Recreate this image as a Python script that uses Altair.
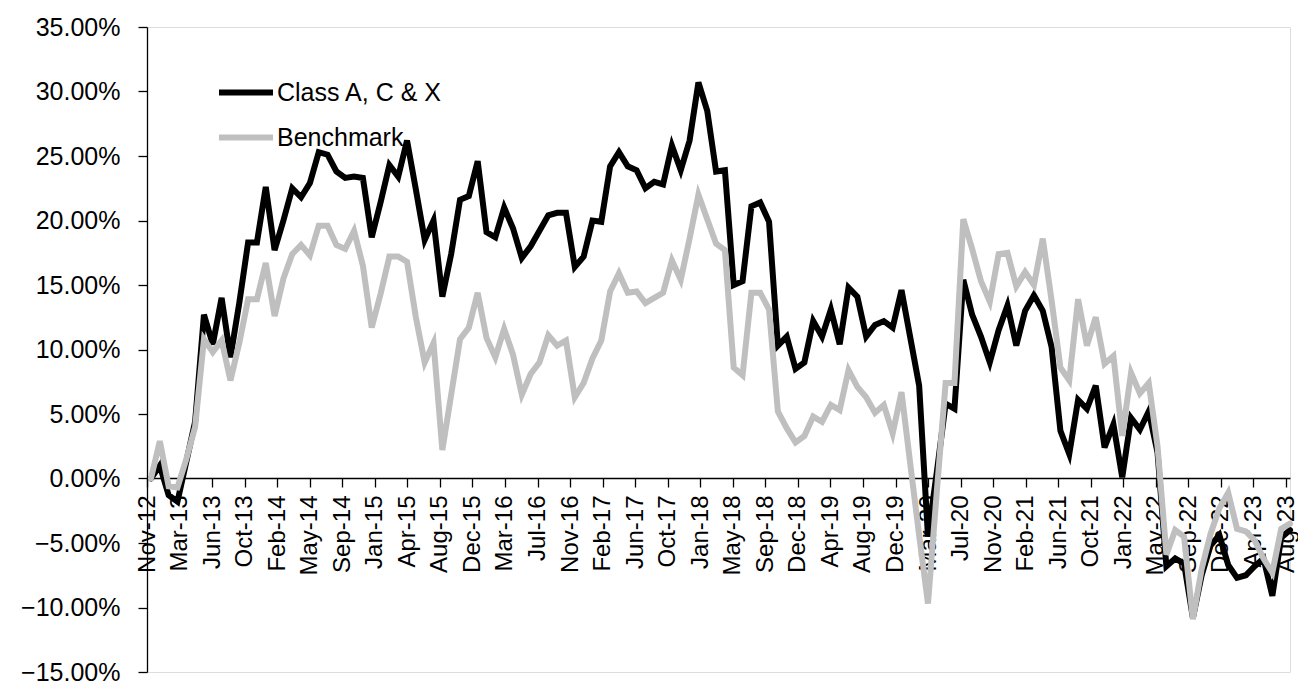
import altair as alt
import pandas as pd

FONT = "Liberation Sans, Arial, sans-serif"

series_names = ["Class A, C & X", "Benchmark"]
series_colors = ["#000000", "#bfbfbf"]

tick_labels = ["Nov-12", "Mar-13", "Jun-13", "Oct-13", "Feb-14", "May-14", "Sep-14",
               "Jan-15", "Apr-15", "Aug-15", "Dec-15", "Mar-16", "Jul-16", "Nov-16",
               "Feb-17", "Jun-17", "Oct-17", "Jan-18", "May-18", "Sep-18", "Dec-18",
               "Apr-19", "Aug-19", "Dec-19", "Mar-20", "Jul-20", "Nov-20", "Feb-21",
               "Jun-21", "Oct-21", "Jan-22", "May-22", "Sep-22", "Dec-22", "Apr-23",
               "Aug-23"]

months = pd.date_range("2012-11-01", "2023-08-01", freq="MS")

class_values = [
    0.0, 1.0, -1.3, -1.8, 1.3, 4.4, 12.7, 10.4, 14.0, 9.4,
    13.6, 18.3, 18.3, 22.6, 17.7, 20.0, 22.5, 21.8, 22.9, 25.3,
    25.1, 23.8, 23.3, 23.4, 23.3, 18.7, 21.4, 24.3, 23.4, 26.2,
    22.4, 18.5, 20.0, 14.1, 17.4, 21.6, 21.9, 24.6, 19.1, 18.7,
    21.0, 19.4, 17.1, 18.0, 19.2, 20.4, 20.6, 20.6, 16.4, 17.2,
    20.0, 19.9, 24.2, 25.3, 24.2, 23.9, 22.5, 23.0, 22.8, 25.8,
    23.9, 26.2, 30.7, 28.5, 23.8, 23.9, 15.0, 15.3, 21.1, 21.4,
    19.9, 10.3, 11.0, 8.5, 9.0, 12.2, 11.0, 13.1, 10.4, 14.8,
    14.1, 11.0, 11.9, 12.2, 11.7, 14.6, 10.9, 7.2, -4.5, 0.5,
    5.8, 5.4, 15.4, 12.7, 11.0, 9.0, 11.5, 13.4, 10.3, 13.0,
    14.2, 13.0, 10.2, 3.7, 1.9, 6.1, 5.4, 7.2, 2.4, 4.2,
    0.1, 4.7, 3.8, 5.2, 2.0, -6.8, -6.2, -6.6, -10.8, -7.5,
    -5.2, -4.4, -6.7, -7.7, -7.5, -6.8, -6.2, -9.1, -4.6, -4.0,
]

benchmark_values = [
    0.0, 2.9, -0.6, -0.7, 1.5, 4.0, 10.8, 9.8, 10.7, 7.6,
    10.5, 13.9, 13.9, 16.7, 12.6, 15.5, 17.4, 18.1, 17.3, 19.6,
    19.6, 18.1, 17.8, 19.2, 16.5, 11.7, 14.3, 17.2, 17.2, 16.8,
    12.5, 9.0, 10.5, 2.2, 6.5, 10.8, 11.7, 14.4, 10.9, 9.4,
    11.6, 9.6, 6.5, 8.1, 9.0, 11.1, 10.3, 10.7, 6.3, 7.4,
    9.3, 10.7, 14.5, 15.9, 14.4, 14.5, 13.6, 14.0, 14.4, 16.9,
    15.4, 18.6, 22.0, 20.1, 18.2, 17.7, 8.6, 8.0, 14.4, 14.4,
    13.1, 5.2, 3.9, 2.8, 3.3, 4.8, 4.4, 5.7, 5.3, 8.4,
    7.1, 6.3, 5.1, 5.7, 3.5, 6.7, 1.1, -4.4, -9.7, -1.0,
    7.4, 7.4, 20.1, 17.8, 15.3, 13.7, 17.4, 17.5, 14.9, 16.0,
    15.0, 18.6, 13.8, 8.6, 7.6, 13.9, 10.3, 12.5, 8.9, 9.5,
    3.3, 8.2, 6.6, 7.4, 2.5, -5.9, -4.0, -4.5, -10.9, -7.0,
    -4.3, -2.3, -1.1, -3.9, -4.1, -4.8, -6.2, -7.3, -3.9, -3.5,
]

y_ticks = [-15, -10, -5, 0, 5, 10, 15, 20, 25, 30, 35]

rows = []
for i, m in enumerate(months):
    rows.append({"idx": i, "month": m.strftime("%b-%y"), "series": series_names[0], "value": class_values[i]})
for i, m in enumerate(months):
    rows.append({"idx": i, "month": m.strftime("%b-%y"), "series": series_names[1], "value": benchmark_values[i]})
df = pd.DataFrame(rows)

# x-axis: evenly spaced category labels, as in the original
x_min = -0.45
x_max = len(months) - 1
step = 3.6857
tick_vals = [x_min + step * k for k in range(len(tick_labels))]
label_array = "[" + ",".join("'" + t + "'" for t in tick_labels) + "]"
x_label_expr = f"{label_array}[round((datum.value - ({x_min})) / {step})]"

W, H = 1143, 645
axis_offset = -round(H * 15 / 50)

x_enc = alt.X(
    "idx:Q",
    scale=alt.Scale(domain=[x_min, x_max], nice=False, zero=False),
    axis=alt.Axis(
        title=None, values=tick_vals, labelExpr=x_label_expr, offset=axis_offset,
        labelAngle=270, labelAlign="right", labelBaseline="middle",
        labelFont=FONT, labelFontSize=24, labelColor="black", labelPadding=8,
        labelOverlap=False, labelBound=False, labelFlush=False,
        tickSize=9, tickColor="black", tickWidth=1.3,
        domainColor="black", domainWidth=1.3, grid=False,
    ),
)
y_enc = alt.Y(
    "value:Q",
    scale=alt.Scale(domain=[-15, 35], nice=False, zero=False),
    axis=alt.Axis(
        title=None, values=y_ticks, labelExpr="format(datum.value, '.2f') + '%'",
        labelFont=FONT, labelFontSize=25, labelColor="black", labelPadding=18,
        tickSize=9, tickColor="black", tickWidth=1.3,
        domainColor="black", domainWidth=1.3, grid=False,
    ),
)
color_enc = alt.Color(
    "series:N",
    scale=alt.Scale(domain=series_names, range=series_colors),
    legend=alt.Legend(
        title=None, orient="none", legendX=69, legendY=43,
        symbolType="stroke", symbolSize=2916, symbolStrokeWidth=6,
        labelFont=FONT, labelFontSize=25, labelColor="black", labelOffset=1,
        labelLimit=0, clipHeight=45, padding=0, rowPadding=0,
    ),
)

base = alt.Chart(df).mark_line(strokeWidth=6, strokeCap="round").encode(
    x=x_enc, y=y_enc, color=color_enc, order="idx:Q"
)

chart = alt.layer(
    base.transform_filter(alt.datum.series == series_names[0]),
    base.transform_filter(alt.datum.series == series_names[1]),
).properties(
    width=W, height=H,
    autosize=alt.AutoSizeParams(type="none"),
    padding={"left": 139, "top": 19, "right": 8, "bottom": 13},
).configure_view(stroke=None).configure(background="white")

chart.save("out.html", embed_options={"renderer": "svg", "actions": False})
